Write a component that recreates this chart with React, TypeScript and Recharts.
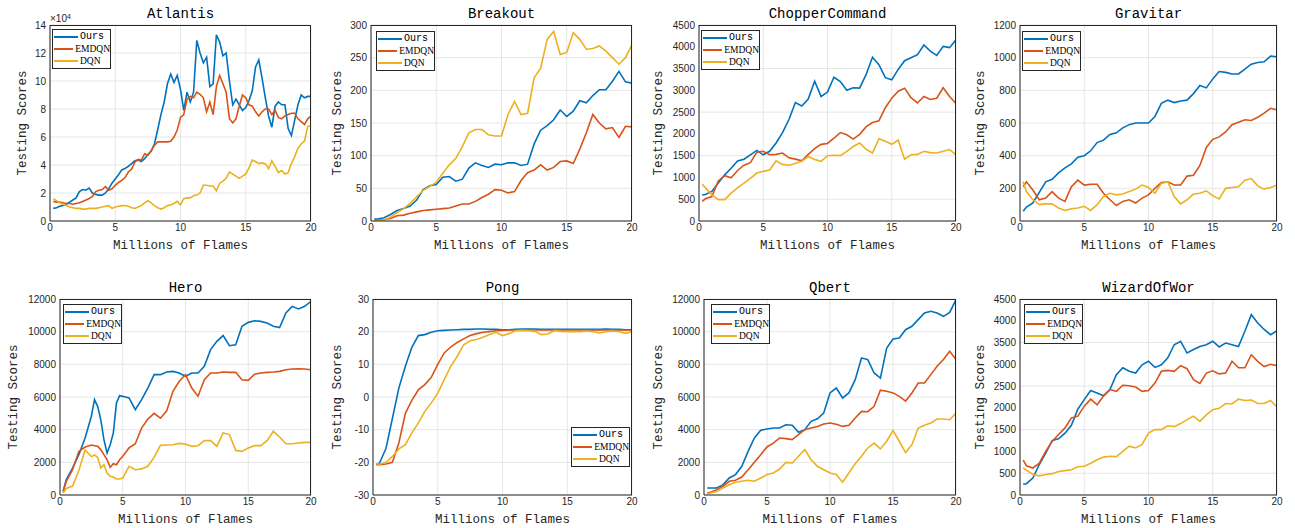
import { LineChart, Line, XAxis, YAxis, CartesianGrid, Legend } from 'recharts';

// x positions (millions of frames)
const FRAMES_HALF = [0.25, 0.5, 1, 1.5, 2, 2.5, 3, 3.5, 4, 4.5, 5, 5.5, 6, 6.5, 7, 7.5, 8, 8.5, 9, 9.5, 10, 10.5, 11, 11.5, 12, 12.5, 13, 13.5, 14, 14.5, 15, 15.5, 16, 16.5, 17, 17.5, 18, 18.5, 19, 19.5, 20];
const FRAMES_QUARTER = [0.25, 0.5, 0.75, 1, 1.25, 1.5, 1.75, 2, 2.25, 2.5, 2.75, 3, 3.25, 3.5, 3.75, 4, 4.25, 4.5, 4.75, 5, 5.25, 5.5, 5.75, 6, 6.25, 6.5, 6.75, 7, 7.25, 7.5, 7.75, 8, 8.25, 8.5, 8.75, 9, 9.25, 9.5, 9.75, 10, 10.25, 10.5, 10.75, 11, 11.25, 11.5, 11.75, 12, 12.25, 12.5, 12.75, 13, 13.25, 13.5, 13.75, 14, 14.25, 14.5, 14.75, 15, 15.25, 15.5, 15.75, 16, 16.25, 16.5, 16.75, 17, 17.25, 17.5, 17.75, 18, 18.25, 18.5, 18.75, 19, 19.25, 19.5, 19.75, 20];
const FRAMES_HERO = [0.25, 0.5, 1, 1.5, 2, 2.5, 2.75, 3, 3.25, 3.5, 3.75, 4, 4.25, 4.5, 4.75, 5, 5.5, 6, 6.5, 7, 7.5, 8, 8.5, 9, 9.5, 10, 10.5, 11, 11.5, 12, 12.5, 13, 13.5, 14, 14.5, 15, 15.5, 16, 16.5, 17, 17.5, 18, 18.5, 19, 19.5, 20];
const X_TICKS = [0, 5, 10, 15, 20];

// Atlantis (scores x 10^4)
const ATLANTIS_OURS = [0.9, 0.95, 1.05, 1.1, 1.2, 1.35, 1.5, 1.65, 2.1, 2.25, 2.2, 2.35, 2.0, 1.9, 1.85, 1.85, 2.0, 2.3, 2.7, 3.0, 3.3, 3.65, 3.75, 3.9, 4.1, 4.3, 4.35, 4.25, 4.45, 4.75, 5.0, 5.5, 6.5, 7.6, 8.5, 9.8, 10.5, 9.9, 10.4, 9.4, 7.9, 9.2, 8.5, 9.2, 12.9, 12.0, 11.3, 11.7, 9.6, 9.8, 13.3, 12.8, 11.8, 12.0, 10.0, 8.3, 8.7, 8.3, 7.9, 8.1, 8.6, 9.3, 11.0, 11.5, 10.2, 8.8, 7.5, 6.7, 8.2, 8.5, 8.3, 8.3, 6.6, 6.1, 7.2, 8.3, 9.0, 8.8, 8.9, 8.9];
const ATLANTIS_EMDQN = [1.4, 1.35, 1.35, 1.3, 1.25, 1.25, 1.2, 1.25, 1.3, 1.4, 1.5, 1.6, 1.75, 2.1, 2.2, 2.25, 2.45, 2.2, 2.3, 2.55, 2.75, 2.9, 3.1, 3.5, 3.7, 4.2, 4.4, 4.35, 4.8, 4.7, 5.0, 5.4, 5.65, 5.65, 5.65, 5.65, 5.7, 6.0, 6.5, 7.4, 7.6, 8.7, 8.9, 8.8, 9.2, 9.05, 8.8, 7.8, 8.5, 7.6, 9.6, 10.4, 9.8, 9.2, 7.3, 7.0, 7.3, 8.2, 9.0, 8.8, 8.3, 8.2, 7.8, 7.5, 7.8, 8.0, 8.0, 7.6, 7.9, 7.4, 7.3, 7.5, 7.6, 7.7, 7.7, 7.3, 7.1, 6.9, 7.3, 7.5];
const ATLANTIS_DQN = [1.6, 1.45, 1.3, 1.2, 1.1, 1.0, 0.95, 0.9, 0.9, 0.85, 0.85, 0.9, 0.9, 0.9, 0.95, 1.0, 1.05, 1.1, 0.9, 1.0, 1.05, 1.1, 1.1, 1.05, 0.95, 0.9, 1.0, 1.1, 1.3, 1.45, 1.3, 1.1, 0.95, 0.85, 0.95, 1.1, 1.15, 1.25, 1.4, 1.15, 1.6, 1.65, 1.65, 1.8, 1.85, 2.0, 2.55, 2.55, 2.5, 2.5, 2.15, 2.7, 2.85, 3.05, 3.5, 3.35, 3.2, 3.05, 3.2, 3.35, 3.8, 4.35, 4.25, 4.1, 4.15, 4.1, 3.75, 4.3, 3.9, 3.45, 3.6, 3.35, 3.45, 4.1, 4.6, 5.2, 5.5, 5.7, 6.75, 6.8];
const ATLANTIS_TICKS = [0, 2, 4, 6, 8, 10, 12, 14];

// Breakout
const BREAKOUT_OURS = [3, 3, 5, 10, 16, 19, 23, 32, 48, 54, 56, 67, 68, 61, 64, 81, 89, 85, 82, 87, 86, 89, 89, 85, 87, 118, 139, 146, 155, 170, 160, 168, 184, 181, 192, 201, 201, 214, 229, 213, 211];
const BREAKOUT_EMDQN = [1, 1, 2, 4, 8, 9, 12, 14, 16, 17, 18, 19, 20, 23, 26, 26, 30, 36, 41, 48, 47, 43, 45, 62, 74, 78, 86, 78, 82, 91, 92, 88, 110, 135, 163, 150, 141, 143, 128, 145, 144];
const BREAKOUT_DQN = [0, 0, 1, 6, 13, 19, 27, 37, 47, 53, 59, 73, 86, 96, 114, 135, 140, 140, 132, 130, 130, 163, 183, 163, 165, 219, 234, 278, 290, 255, 258, 288, 278, 263, 264, 268, 260, 250, 240, 250, 270];
const BREAKOUT_TICKS = [0, 50, 100, 150, 200, 250, 300];

// ChopperCommand
const CHOPPER_OURS = [600, 610, 680, 870, 1060, 1210, 1380, 1420, 1520, 1620, 1520, 1600, 1790, 2030, 2330, 2720, 2640, 2800, 3210, 2860, 2960, 3300, 3200, 3000, 3060, 3050, 3360, 3760, 3590, 3290, 3240, 3480, 3680, 3750, 3820, 4040, 3900, 3800, 4010, 3980, 4160];
const CHOPPER_EMDQN = [450, 510, 560, 920, 1040, 990, 1160, 1280, 1340, 1580, 1600, 1520, 1530, 1560, 1450, 1420, 1380, 1530, 1660, 1760, 1780, 1900, 2030, 1980, 1880, 1990, 2160, 2260, 2300, 2600, 2820, 2980, 3050, 2830, 2710, 2860, 2790, 2820, 3060, 2860, 2700];
const CHOPPER_DQN = [850, 760, 600, 490, 490, 640, 760, 870, 980, 1100, 1140, 1170, 1380, 1300, 1280, 1320, 1370, 1480, 1410, 1370, 1500, 1510, 1500, 1600, 1710, 1790, 1650, 1560, 1890, 1830, 1760, 1860, 1420, 1520, 1530, 1600, 1570, 1560, 1600, 1640, 1520];
const CHOPPER_TICKS = [0, 500, 1000, 1500, 2000, 2500, 3000, 3500, 4000, 4500];

// Gravitar
const GRAVITAR_OURS = [60, 85, 110, 175, 240, 255, 295, 325, 350, 390, 400, 430, 480, 495, 530, 540, 570, 590, 600, 600, 600, 640, 720, 740, 725, 735, 740, 780, 830, 815, 870, 915, 910, 900, 900, 930, 960, 970, 975, 1010, 1005];
const GRAVITAR_EMDQN = [210, 240, 190, 130, 140, 180, 140, 120, 210, 250, 220, 225, 225, 170, 130, 95, 120, 130, 110, 140, 160, 200, 235, 240, 220, 220, 275, 280, 340, 450, 500, 515, 545, 590, 605, 620, 615, 635, 660, 690, 680];
const GRAVITAR_DQN = [240, 180, 130, 100, 105, 105, 80, 65, 75, 80, 90, 65, 100, 150, 170, 160, 165, 180, 195, 220, 205, 170, 230, 240, 150, 105, 130, 165, 170, 185, 155, 135, 200, 205, 210, 250, 260, 215, 195, 205, 220];
const GRAVITAR_TICKS = [0, 200, 400, 600, 800, 1000, 1200];

// Hero
const HERO_OURS = [220, 940, 1650, 2470, 3490, 4820, 5840, 5430, 4610, 3390, 2570, 3080, 3800, 5630, 6080, 6040, 5940, 5220, 5840, 6550, 7370, 7370, 7530, 7570, 7470, 7270, 7470, 7470, 7880, 8900, 9410, 9760, 9140, 9200, 10330, 10570, 10670, 10630, 10530, 10330, 10250, 11140, 11550, 11390, 11550, 11860];
const HERO_EMDQN = [220, 840, 1550, 2670, 2940, 3060, 3020, 2980, 2780, 2470, 2160, 1700, 1920, 1850, 2160, 2370, 2880, 3140, 4100, 4650, 5000, 4700, 5150, 6350, 6960, 7370, 6550, 6050, 7060, 7470, 7470, 7530, 7510, 7510, 7060, 7020, 7400, 7470, 7510, 7530, 7570, 7670, 7710, 7730, 7710, 7670];
const HERO_DQN = [120, 400, 550, 1500, 2750, 2350, 2450, 2300, 1650, 1850, 1350, 1150, 1100, 980, 980, 1040, 1760, 1550, 1600, 1760, 2300, 3040, 3060, 3080, 3160, 3120, 2980, 3020, 3330, 3330, 2980, 3800, 3700, 2730, 2670, 2880, 3020, 3020, 3330, 3900, 3550, 3140, 3140, 3180, 3220, 3220];
const HERO_TICKS = [0, 2000, 4000, 6000, 8000, 10000, 12000];

// Pong
const PONG_OURS = [-20.7, -20.2, -15.8, -6.5, 2.8, 9.4, 15.2, 18.8, 19.1, 19.8, 20.3, 20.4, 20.5, 20.6, 20.7, 20.7, 20.8, 20.8, 20.7, 20.7, 20.6, 20.6, 20.7, 20.8, 20.8, 20.8, 20.7, 20.7, 20.7, 20.7, 20.7, 20.7, 20.7, 20.7, 20.7, 20.7, 20.8, 20.7, 20.7, 20.6, 20.6];
const PONG_EMDQN = [-20.7, -20.7, -20.5, -20.0, -14.0, -5.0, -1.0, 2.2, 3.8, 6.0, 10.0, 13.5, 15.3, 16.7, 17.8, 18.8, 19.4, 19.8, 20.0, 20.3, 20.4, 20.5, 20.5, 20.5, 20.5, 20.5, 20.5, 20.5, 20.5, 20.5, 20.5, 20.5, 20.5, 20.5, 20.5, 20.5, 20.5, 20.5, 20.5, 20.5, 20.5];
const PONG_DQN = [-20.4, -20.6, -20.0, -18.2, -15.9, -14.6, -11.0, -8.0, -4.4, -1.8, 1.2, 5.3, 9.4, 12.4, 16.0, 17.2, 17.6, 18.3, 19.1, 19.8, 18.8, 19.4, 20.3, 20.4, 20.3, 20.1, 19.1, 19.3, 20.3, 20.1, 20.0, 20.1, 20.0, 20.2, 20.0, 19.6, 20.0, 20.2, 20.0, 19.5, 20.0];
const PONG_TICKS = [-30, -20, -10, 0, 10, 20, 30];

// Qbert
const QBERT_OURS = [430, 430, 430, 620, 1040, 1250, 1760, 2670, 3490, 3960, 4040, 4100, 4100, 4300, 4270, 3840, 4000, 4510, 4670, 5020, 6250, 6550, 5940, 6250, 7060, 8390, 8290, 7470, 7160, 9000, 9550, 9610, 10120, 10330, 10740, 11140, 11250, 11140, 10940, 11180, 11960];
const QBERT_EMDQN = [120, 160, 330, 530, 840, 900, 1100, 1550, 2000, 2470, 2940, 3180, 3490, 3450, 3390, 3690, 4000, 4100, 4200, 4350, 4410, 4330, 4200, 4270, 4710, 5120, 5100, 5430, 6420, 6350, 6250, 6040, 5750, 6250, 6860, 6860, 7370, 7880, 8290, 8800, 8290];
const QBERT_DQN = [80, 120, 220, 430, 630, 780, 840, 900, 840, 1040, 1250, 1350, 1590, 2000, 1960, 2370, 2780, 2160, 1760, 1550, 1350, 1250, 780, 1350, 1920, 2370, 2880, 3180, 2820, 3290, 3950, 3290, 2600, 3080, 4100, 4270, 4410, 4650, 4650, 4610, 5020];
const QBERT_TICKS = [0, 2000, 4000, 6000, 8000, 10000, 12000];

// WizardOfWor
const WIZARD_OURS = [250, 260, 390, 700, 960, 1250, 1290, 1420, 1600, 1970, 2190, 2400, 2340, 2280, 2420, 2760, 2920, 2840, 2800, 2990, 3070, 2930, 2990, 3150, 3450, 3530, 3260, 3340, 3410, 3450, 3530, 3400, 3490, 3450, 3410, 3760, 4140, 3950, 3800, 3680, 3770];
const WIZARD_EMDQN = [800, 670, 620, 730, 1000, 1230, 1390, 1540, 1770, 1810, 2040, 2200, 2070, 2270, 2420, 2380, 2520, 2510, 2480, 2380, 2400, 2570, 2840, 2860, 2840, 2970, 2900, 2650, 2560, 2800, 2850, 2780, 2800, 3070, 2920, 2920, 3220, 3070, 2950, 3000, 2970];
const WIZARD_DQN = [620, 570, 470, 440, 470, 490, 540, 560, 580, 650, 660, 730, 810, 870, 890, 880, 1000, 1120, 1080, 1160, 1420, 1500, 1500, 1590, 1570, 1640, 1730, 1810, 1690, 1840, 1960, 1990, 2100, 2090, 2200, 2170, 2180, 2100, 2100, 2170, 2020];
const WIZARD_TICKS = [0, 500, 1000, 1500, 2000, 2500, 3000, 3500, 4000, 4500];

const SERIES = [
  { key: 'ours', name: 'Ours', color: '#0072BD' },
  { key: 'emdqn', name: 'EMDQN', color: '#D95319' },
  { key: 'dqn', name: 'DQN', color: '#EDB120' },
];

const MONO = '"Liberation Mono", "DejaVu Sans Mono", monospace';
const SANS = '"Liberation Sans", Arial, sans-serif';
const SERIF = '"Liberation Serif", serif';
const AXIS = '#262626';
const GRID = '#e6e6e6';

// space around each plot box inside its chart
const ML = 56;
const MR = 10;
const MT = 30;
const MB = 34;

type Box = { x: number; y: number; w: number; h: number };
type PanelCfg = {
  title: string;
  frames: number[];
  ours: number[];
  emdqn: number[];
  dqn: number[];
  yTicks: number[];
  plot: Box;
  yLabelGap: number;
  legend: { dx: number; dy: number };
  exponent?: number;
};

const PANELS: PanelCfg[] = [
  { title: 'Atlantis', frames: FRAMES_QUARTER, ours: ATLANTIS_OURS, emdqn: ATLANTIS_EMDQN, dqn: ATLANTIS_DQN, yTicks: ATLANTIS_TICKS, plot: { x: 50, y: 25, w: 261, h: 196 }, yLabelGap: 27, legend: { dx: 2, dy: 4 }, exponent: 4 },
  { title: 'Breakout', frames: FRAMES_HALF, ours: BREAKOUT_OURS, emdqn: BREAKOUT_EMDQN, dqn: BREAKOUT_DQN, yTicks: BREAKOUT_TICKS, plot: { x: 371, y: 25, w: 261, h: 196 }, yLabelGap: 33, legend: { dx: 5, dy: 6 } },
  { title: 'ChopperCommand', frames: FRAMES_HALF, ours: CHOPPER_OURS, emdqn: CHOPPER_EMDQN, dqn: CHOPPER_DQN, yTicks: CHOPPER_TICKS, plot: { x: 699, y: 25, w: 257, h: 196 }, yLabelGap: 40, legend: { dx: 2, dy: 5 } },
  { title: 'Gravitar', frames: FRAMES_HALF, ours: GRAVITAR_OURS, emdqn: GRAVITAR_EMDQN, dqn: GRAVITAR_DQN, yTicks: GRAVITAR_TICKS, plot: { x: 1020, y: 25, w: 257, h: 196 }, yLabelGap: 39, legend: { dx: 2, dy: 6 } },
  { title: 'Hero', frames: FRAMES_HERO, ours: HERO_OURS, emdqn: HERO_EMDQN, dqn: HERO_DQN, yTicks: HERO_TICKS, plot: { x: 60, y: 299, w: 251, h: 196 }, yLabelGap: 46, legend: { dx: 3, dy: 5 } },
  { title: 'Pong', frames: FRAMES_HALF, ours: PONG_OURS, emdqn: PONG_EMDQN, dqn: PONG_DQN, yTicks: PONG_TICKS, plot: { x: 373, y: 299, w: 259, h: 196 }, yLabelGap: 35, legend: { dx: 198, dy: 128 } },
  { title: 'Qbert', frames: FRAMES_HALF, ours: QBERT_OURS, emdqn: QBERT_EMDQN, dqn: QBERT_DQN, yTicks: QBERT_TICKS, plot: { x: 704, y: 299, w: 252, h: 196 }, yLabelGap: 45, legend: { dx: 7, dy: 5 } },
  { title: 'WizardOfWor', frames: FRAMES_HALF, ours: WIZARD_OURS, emdqn: WIZARD_EMDQN, dqn: WIZARD_DQN, yTicks: WIZARD_TICKS, plot: { x: 1020, y: 299, w: 257, h: 196 }, yLabelGap: 39, legend: { dx: 4, dy: 5 } },
];

// legend box drawn in series order (Ours, EMDQN, DQN)
const legendContent = () => (
  <div style={{ width: 59, boxSizing: 'border-box', border: `1px solid ${AXIS}`, background: '#fff', padding: '1px 0' }}>
    {SERIES.map((s) => (
      <div key={s.key} style={{ display: 'flex', alignItems: 'center', height: 12 }}>
        <span style={{ display: 'inline-block', width: 24, marginLeft: 1, borderTop: `2px solid ${s.color}` }} />
        <span style={{ marginLeft: 2, fontFamily: s.name === 'Ours' ? MONO : SERIF, fontSize: s.name === 'Ours' ? 10 : 9.5, color: '#000', lineHeight: '12px' }}>
          {s.name}
        </span>
      </div>
    ))}
  </div>
);

function Panel({ cfg }: { cfg: PanelCfg }) {
  const { plot } = cfg;
  const width = ML + plot.w + MR;
  const height = MT + plot.h + MB;
  const rows = cfg.frames.map((f, i) => ({ frame: f, ours: cfg.ours[i], emdqn: cfg.emdqn[i], dqn: cfg.dqn[i] }));
  const yDomain = [cfg.yTicks[0], cfg.yTicks[cfg.yTicks.length - 1]];

  const xLabel = (p: any) => {
    const vb = p.viewBox;
    return (
      <text x={vb.x + vb.width / 2} y={vb.y + 25} textAnchor="middle" dominantBaseline="central" fontFamily={MONO} fontSize={12.5} fill={AXIS}>
        Millions of Flames
      </text>
    );
  };
  const yLabel = (p: any) => {
    const vb = p.viewBox;
    const cx = vb.x + vb.width - cfg.yLabelGap;
    const cy = vb.y + vb.height / 2;
    return (
      <text x={cx} y={cy} transform={`rotate(-90 ${cx} ${cy})`} textAnchor="middle" dominantBaseline="central" fontFamily={MONO} fontSize={12.5} fill={AXIS}>
        Testing Scores
      </text>
    );
  };

  const tickStyle = { fontSize: 10, fill: AXIS, fontFamily: SANS };

  return (
    <div style={{ position: 'absolute', left: plot.x - ML, top: plot.y - MT, width, height }}>
      <LineChart width={width} height={height} data={rows} margin={{ top: MT, right: MR, bottom: 0, left: 0 }}>
        <CartesianGrid stroke={GRID} strokeWidth={1} />
        <XAxis dataKey="frame" type="number" domain={[0, 20]} ticks={X_TICKS} allowDataOverflow height={MB} tickSize={0} tickMargin={3} axisLine={{ stroke: AXIS }} tick={tickStyle} label={xLabel} />
        <YAxis type="number" domain={yDomain} ticks={cfg.yTicks} allowDataOverflow width={ML} tickSize={0} tickMargin={4} axisLine={{ stroke: AXIS }} tick={tickStyle} label={yLabel} />
        <Legend
          layout="horizontal"
          verticalAlign="middle"
          align="center"
          content={legendContent}
          wrapperStyle={{ top: MT + cfg.legend.dy, left: ML + cfg.legend.dx, width: 'auto', height: 'auto', zIndex: 2 }}
        />
        {SERIES.map((s) => (
          <Line key={s.key} type="linear" dataKey={s.key} name={s.name} stroke={s.color} strokeWidth={1.6} dot={false} activeDot={false} isAnimationActive={false} />
        ))}
      </LineChart>
      {/* axes box (top and right edges) */}
      <div style={{ position: 'absolute', left: ML, top: MT, width: plot.w, height: plot.h, boxSizing: 'border-box', borderTop: `1px solid ${AXIS}`, borderRight: `1px solid ${AXIS}`, pointerEvents: 'none' }} />
      <div style={{ position: 'absolute', left: ML, top: MT - 19, width: plot.w, height: 16, lineHeight: '16px', textAlign: 'center', fontFamily: MONO, fontSize: 14, color: '#000', whiteSpace: 'nowrap' }}>
        {cfg.title}
      </div>
      {cfg.exponent ? (
        <div style={{ position: 'absolute', left: ML, top: MT - 12, height: 11, lineHeight: '11px', fontFamily: SANS, fontSize: 10, color: AXIS, whiteSpace: 'nowrap' }}>
          ×10<sup style={{ fontSize: 7, verticalAlign: 'top', lineHeight: '7px' }}>{cfg.exponent}</sup>
        </div>
      ) : null}
    </div>
  );
}

export default function App() {
  return (
    <div style={{ position: 'absolute', left: 0, top: 0, width: 1295, height: 528, background: '#fff', overflow: 'hidden' }}>
      {PANELS.map((cfg) => (
        <Panel key={cfg.title} cfg={cfg} />
      ))}
    </div>
  );
}
